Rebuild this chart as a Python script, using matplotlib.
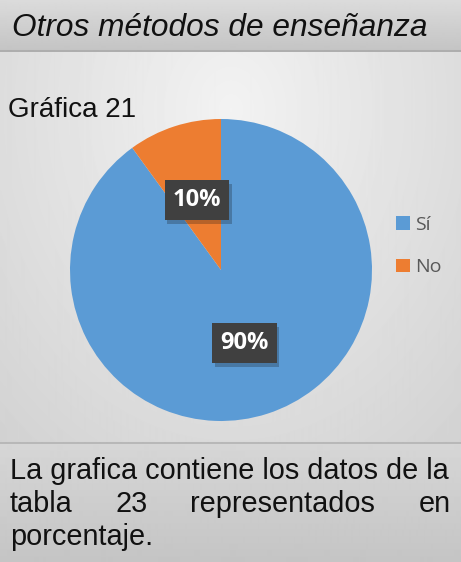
import numpy as np
import matplotlib
matplotlib.use("Agg")
import matplotlib.pyplot as plt
import matplotlib.patheffects as pe
from matplotlib.patches import Patch

# --------------------------------------
# data
# --------------------------------------
categories = ["Sí", "No"]
values = [90, 10]
colors = ["#5B9BD5", "#ED7D31"]

title = "Otros métodos de enseñanza"
subtitle = "Gráfica 21"
caption_lines = ["La grafica contiene los datos de la",
                 ["tabla", "23", "representados", "en"],
                 "porcentaje."]

W, H = 461, 562
fig = plt.figure(figsize=(W / 100, H / 100), dpi=100)

# --------------------------------------
# background bands (title / chart / caption)
# --------------------------------------
bg = fig.add_axes([0, 0, 1, 1])
bg.set_xlim(0, W)
bg.set_ylim(H, 0)
bg.axis("off")

yy, xx = np.mgrid[0:H, 0:W]
img = np.zeros((H, W))
# title band
top = yy < 50
img[top] = 0.86 - 0.09 * (yy[top] / 50)
# chart area: soft radial gradient
mid = (yy >= 52) & (yy < 442)
d = np.sqrt(((xx - 230) / 330) ** 2 + ((yy - 110) / 420) ** 2)
img[mid] = (0.95 - 0.12 * np.clip(d, 0, 1.2))[mid]
# caption band
bot = yy >= 444
img[bot] = 0.84 - 0.07 * ((yy[bot] - 444) / 118)
# separator lines
img[(yy >= 50) & (yy < 52)] = 0.68
img[(yy >= 442) & (yy < 444)] = 0.72
bg.imshow(img, cmap="gray", vmin=0, vmax=1, extent=(0, W, H, 0), aspect="auto",
          interpolation="bilinear")

fig.text(12 / W, 1 - 28 / H, title, fontsize=22.8, style="italic",
         family="Liberation Sans", va="center", ha="left", color="#111111")
fig.text(8 / W, 1 - 110 / H, subtitle, fontsize=20,
         family="Liberation Sans", va="center", ha="left", color="#111111")

# caption (justified second line)
cap_fs = 20.8
fig.text(10 / W, 1 - 471 / H, caption_lines[0], fontsize=cap_fs,
         family="Liberation Sans", va="center", ha="left", color="#111111")
word_x = [10, 115, 190, 451]
word_ha = ["left", "left", "left", "right"]
for w, x, ha in zip(caption_lines[1], word_x, word_ha):
    fig.text(x / W, 1 - 504 / H, w, fontsize=cap_fs, family="Liberation Sans",
             va="center", ha=ha, color="#111111")
fig.text(10 / W, 1 - 537 / H, caption_lines[2], fontsize=cap_fs,
         family="Liberation Sans", va="center", ha="left", color="#111111")

# --------------------------------------
# pie
# --------------------------------------
cx, cy, r = 221, 270, 151
ax = fig.add_axes([(cx - r) / W, (H - cy - r) / H, 2 * r / W, 2 * r / H])
wedges, texts, autotexts = ax.pie(values, colors=colors, startangle=90,
                                  counterclock=False, radius=1,
                                  autopct="%1.0f%%",
                                  wedgeprops=dict(linewidth=0))
ax.set_xlim(-1, 1)
ax.set_ylim(-1, 1)
ax.set_aspect("equal")
ax.axis("off")

label_pos = [(0.155, -0.483), (-0.159, 0.464)]
for t, p in zip(autotexts, label_pos):
    t.set_position(p)
    t.set_color("white")
    t.set_fontsize(17)
    t.set_fontweight("bold")
    t.set_family("Open Sans")
    t.set_ha("center")
    t.set_va("center")
    t.set_bbox(dict(boxstyle="square,pad=0.34", facecolor="#404040",
                    edgecolor="none"))
    t.get_bbox_patch().set_path_effects(
        [pe.SimplePatchShadow(offset=(2, -3), alpha=0.25), pe.Normal()])

handles = [Patch(facecolor=c, edgecolor="none") for c in colors]
fig.legend(handles, categories, loc="center left",
           bbox_to_anchor=(396 / W, 1 - 246 / H), frameon=False,
           borderpad=0, borderaxespad=0,
           handlelength=0.7, handleheight=0.7, handletextpad=0.3,
           labelspacing=1.25, prop=dict(family="Open Sans", size=14),
           labelcolor="#595959")

fig.savefig("out.png", dpi=100)
